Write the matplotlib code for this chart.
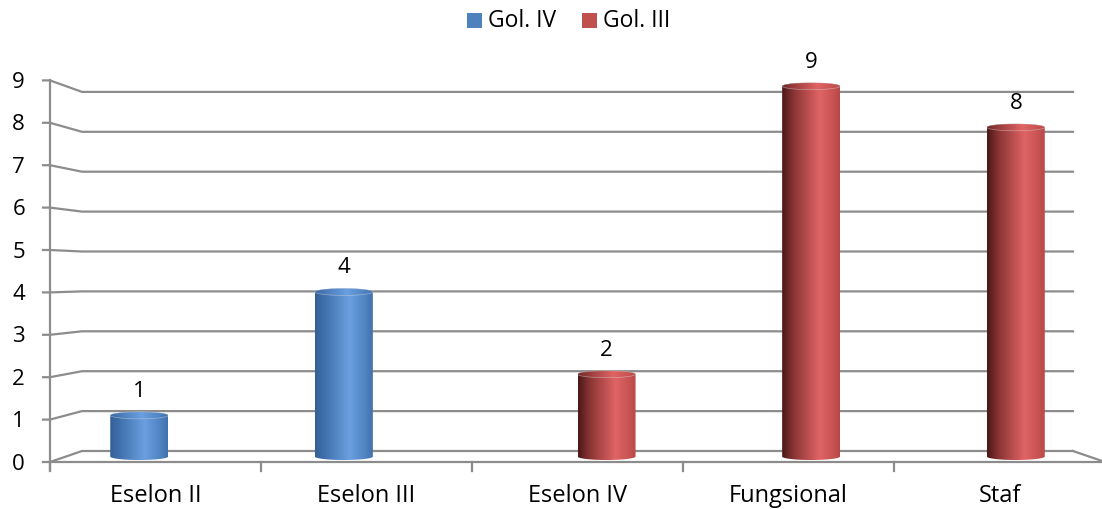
import numpy as np
import matplotlib.pyplot as plt
from matplotlib.path import Path
from matplotlib.patches import PathPatch, Rectangle
from matplotlib.colors import LinearSegmentedColormap

plt.rcParams["font.family"] = ["Open Sans", "DejaVu Sans"]

categories = ["Eselon II", "Eselon III", "Eselon IV", "Fungsional", "Staf"]
series_names = ["Gol. IV", "Gol. III"]
gol_iv = [1, 4, None, None, None]
gol_iii = [None, None, 2, 9, 8]
y_ticks = list(range(0, 10))

# pseudo-3D box (pixel space): front plane and back wall
FRONT = dict(x0=50, x1=1105, y0=462, unit=42.4)
BACK = dict(x0=82, x1=1073, y0=451, unit=39.9)
BAR_DEPTH = 0.5
BAR_W = 58
BAR_OFFSET = [-0.142, 0.142]  # in category units, per series

GRID = "#8c8c8c"
SERIES_COLORS = ["#4f81bd", "#c0504d"]
CMAPS = [
    LinearSegmentedColormap.from_list("blue_cyl", [
        (0.0, "#335f96"), (0.15, "#3f6fab"), (0.6, "#6a9fe0"),
        (0.85, "#5185c4"), (1.0, "#4272ad")]),
    LinearSegmentedColormap.from_list("red_cyl", [
        (0.0, "#4a1818"), (0.2, "#8a3434"), (0.65, "#e06464"),
        (0.85, "#cc5555"), (1.0, "#b84848")]),
]


def lerp(a, b, t):
    return a + (b - a) * t


def project(cat, val, depth):
    x0 = lerp(FRONT["x0"], BACK["x0"], depth)
    x1 = lerp(FRONT["x1"], BACK["x1"], depth)
    y0 = lerp(FRONT["y0"], BACK["y0"], depth)
    unit = lerp(FRONT["unit"], BACK["unit"], depth)
    x = x0 + (x1 - x0) * cat / len(categories)
    y = y0 - unit * val
    return x, y


def draw_cylinder(ax, xc, ytop, ybot, width, cmap):
    rx = width / 2
    ry = 3.5
    t = np.linspace(0, np.pi, 60)
    bottom = np.column_stack([xc - rx * np.cos(t), ybot + ry * np.sin(t)])
    top = np.column_stack([xc + rx * np.cos(t), ytop - ry * np.sin(t)])
    verts = np.vstack([bottom, top, bottom[:1]])
    codes = [Path.MOVETO] + [Path.LINETO] * (len(verts) - 2) + [Path.CLOSEPOLY]
    body = PathPatch(Path(verts, codes), fc="none", ec="none")
    ax.add_patch(body)
    grad = np.linspace(0, 1, 256).reshape(1, -1)
    im = ax.imshow(grad, cmap=cmap, extent=[xc - rx, xc + rx, ybot + ry, ytop - ry],
                   aspect="auto", zorder=3, interpolation="bilinear")
    im.set_clip_path(body)

    # top face, only a touch lighter than the body
    tt = np.linspace(0, 2 * np.pi, 80)
    cap_verts = np.column_stack([xc + rx * np.cos(tt), ytop + ry * np.sin(tt)])
    cap = PathPatch(Path(cap_verts, closed=True), fc="none", ec="none")
    ax.add_patch(cap)
    im2 = ax.imshow(grad * 0.9 + 0.1, cmap=cmap, vmin=0, vmax=1,
                    extent=[xc - rx, xc + rx, ytop + ry, ytop - ry],
                    aspect="auto", zorder=4, interpolation="bilinear")
    im2.set_clip_path(cap)
    ax.add_patch(PathPatch(Path(cap_verts, closed=True), fc="none",
                           ec="#e0e0e0", lw=0.5, alpha=0.5, zorder=5))


fig = plt.figure(figsize=(11.02, 5.09), dpi=100)
ax = fig.add_axes([0, 0, 1, 1])

# gridlines: front tick -> diagonal to back wall -> across the wall
for v in y_ticks:
    fx, fy = project(0, v, 0)
    bx, by = project(0, v, 1)
    ex, _ = project(len(categories), v, 1)
    ax.plot([fx - 7, fx, bx, ex], [fy, fy, by, by], color=GRID, lw=1.6,
            solid_joinstyle="miter", zorder=1)
    ax.text(fx - 25, fy + 2, str(v), ha="right", va="center", fontsize=16)

# floor
fl_x, fl_y = project(0, 0, 0)
fr_x, fr_y = project(len(categories), 0, 0)
br_x, br_y = project(len(categories), 0, 1)
ax.plot([fl_x, fr_x], [fl_y, fl_y], color=GRID, lw=1.6, zorder=1)
ax.plot([br_x, fr_x], [br_y, fr_y], color=GRID, lw=1.6, zorder=1)

# vertical axis on the front plane
_, top_y = project(0, y_ticks[-1], 0)
ax.plot([fl_x, fl_x], [top_y, fl_y + 8], color=GRID, lw=1.6, zorder=2)

# category ticks and labels
for i in range(len(categories) + 1):
    tx, ty = project(i, 0, 0)
    ax.plot([tx, tx], [ty, ty + 9], color=GRID, lw=1.6, zorder=2)
for i, name in enumerate(categories):
    cx, cy = project(i + 0.5, 0, 0)
    ax.text(cx, cy + 34, name, ha="center", va="center", fontsize=17)

# cylinders with value labels
for s, values in enumerate([gol_iv, gol_iii]):
    for i, v in enumerate(values):
        if v is None:
            continue
        xc, ytop = project(i + 0.5 + BAR_OFFSET[s], v, BAR_DEPTH)
        _, ybot = project(i + 0.5, 0, BAR_DEPTH)
        draw_cylinder(ax, xc, ytop, ybot, BAR_W, CMAPS[s])
        ax.text(xc, ytop - 24, str(v), ha="center", va="center", fontsize=16, zorder=6)

# legend
leg_y = 20
for s, (name, x) in enumerate(zip(series_names, [467, 582])):
    ax.add_patch(Rectangle((x, leg_y - 7.5), 15, 15, fc=SERIES_COLORS[s], ec="none"))
    ax.text(x + 21, leg_y + 1, name, ha="left", va="center", fontsize=16.5)

ax.set_xlim(0, 1102)
ax.set_ylim(509, 0)
ax.axis("off")

fig.savefig("out.png", dpi=100)
